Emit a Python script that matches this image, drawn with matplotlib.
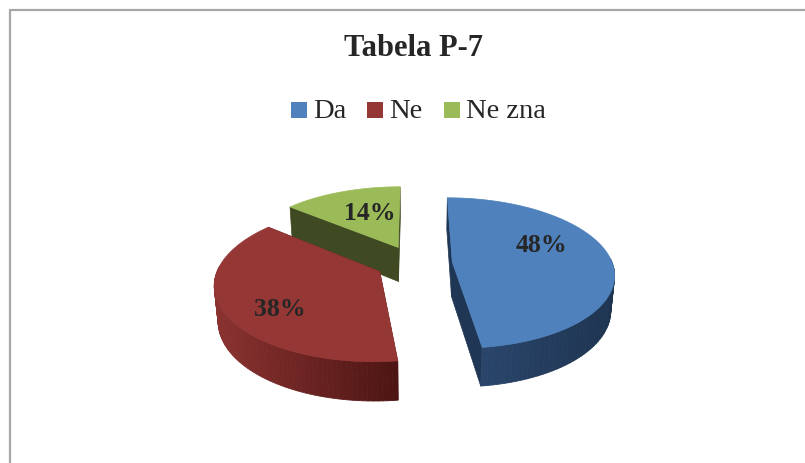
#!/usr/bin/env python3
"""Tabela P-7: exploded 3D pie drawn with a small perspective projection."""

import matplotlib
matplotlib.use("Agg")
import matplotlib.pyplot as plt
import numpy as np
from matplotlib.patches import Rectangle

title = "Tabela P-7"
categories = ["Da", "Ne", "Ne zna"]
values = [48, 38, 14]
labels = ["48%", "38%", "14%"]

top_colors = ["#4f81bd", "#953735", "#9bbb59"]
cut_colors = ["#1f3654", "#5c1f1d", "#3f4a22"]
wall_left = ["#2d4a72", "#8a3230", "#4f5e2b"]
wall_right = ["#1e3450", "#4c1513", "#3f4a22"]
text_color = "#262626"
frame_color = "#a6a6a6"

W, H = 805, 463
X0, Y0, SCALE = 414.0, 263.0, 160.0
ELEV = np.radians(27.5)
DIST = 6.0
EXPLODE = 0.24
DEPTH = 0.25
label_pos = [(541, 245), (280, 309), (370, 213)]
legend_x = [291, 367, 444]

plt.rcParams["font.family"] = ["Liberation Serif", "DejaVu Serif"]


def project(x, y, z):
    # x right, y away from the viewer, z up
    v = y * np.sin(ELEV) + z * np.cos(ELEV)
    w = y * np.cos(ELEV) - z * np.sin(ELEV)
    k = SCALE / (1 + w / DIST)
    return X0 + x * k, Y0 - v * k


def mix(c1, c2, t):
    a = np.array(matplotlib.colors.to_rgb(c1))
    b = np.array(matplotlib.colors.to_rgb(c2))
    return tuple(a + (b - a) * t)


def draw_wedge(ax, start, end, i):
    mid = (start + end) / 2
    ox, oy = EXPLODE * np.sin(mid), EXPLODE * np.cos(mid)
    t = np.linspace(start, end, 90)
    rx, ry = ox + np.sin(t), oy + np.cos(t)

    # cut faces first, the wall and top cover the ones turned away
    for ang in (start, end):
        ex, ey = ox + np.sin(ang), oy + np.cos(ang)
        pts = [project(ox, oy, 0), project(ex, ey, 0), project(ex, ey, -DEPTH), project(ox, oy, -DEPTH)]
        ax.fill(*zip(*pts), color=cut_colors[i], lw=0.5)

    sx, sy = project(rx, ry, 0)
    bx, by = project(rx, ry, -DEPTH)
    x_lo, x_hi = sx.min(), sx.max()
    for j in range(len(t) - 1):
        if np.cos(t[j]) > 0.05:
            continue  # back of the rim, not seen
        frac = (sx[j] + sx[j + 1]) / 2
        frac = np.clip((frac - x_lo) / max(x_hi - x_lo, 1), 0, 1)
        ax.fill([sx[j], sx[j + 1], bx[j + 1], bx[j]], [sy[j], sy[j + 1], by[j + 1], by[j]],
                color=mix(wall_left[i], wall_right[i], frac), lw=0.6)

    px, py = project(ox, oy, 0)
    ax.fill(np.r_[px, sx], np.r_[py, sy], color=top_colors[i], lw=0.5)


def main():
    fig = plt.figure(figsize=(W / 100, H / 100), dpi=100)
    ax = fig.add_axes([0, 0, 1, 1])
    ax.set_xlim(0, W)
    ax.set_ylim(H, 0)
    ax.axis("off")

    ax.plot([10, 10, W], [H, 9.5, 9.5], color=frame_color, lw=1.6, solid_joinstyle="miter")

    ax.text(413, 48, title, ha="center", va="center", fontsize=22, fontweight="bold", color=text_color)

    for name, color, x in zip(categories, top_colors, legend_x):
        ax.add_patch(Rectangle((x, 102), 16, 16, color=color, lw=0))
        ax.text(x + 22, 118, name, ha="left", va="baseline", fontsize=20.5, color=text_color)

    edges = np.r_[0, np.cumsum(values)] / np.sum(values) * 2 * np.pi
    # back to front: green, red, blue
    for i in (2, 1, 0):
        draw_wedge(ax, edges[i], edges[i + 1], i)

    for lab, (x, y) in zip(labels, label_pos):
        ax.text(x, y, lab, ha="center", va="center", fontsize=18.5, fontweight="bold", color=text_color)

    fig.savefig("out.png", dpi=100)
    plt.close(fig)


if __name__ == "__main__":
    main()
